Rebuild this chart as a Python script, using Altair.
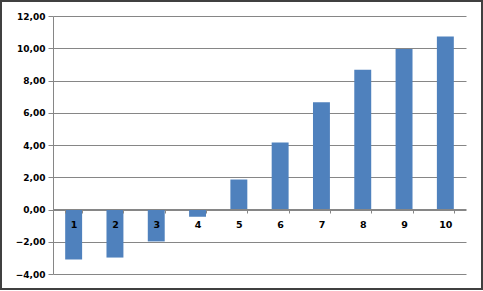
import altair as alt
import pandas as pd

categories = ["1", "2", "3", "4", "5", "6", "7", "8", "9", "10"]
values = [-3.10, -2.98, -1.98, -0.45, 1.86, 4.15, 6.65, 8.67, 9.95, 10.73]
y_ticks = [-4, -2, 0, 2, 4, 6, 8, 10, 12]

df = pd.DataFrame({"cat": categories, "val": values})

W, H = 413, 258
font = "DejaVu Sans"

base = alt.Chart(df)

bars = base.mark_bar(color="#4f81bd").encode(
    x=alt.X(
        "cat:N",
        sort=categories,
        scale=alt.Scale(paddingInner=0.59, paddingOuter=0.295),
        axis=alt.Axis(
            title=None,
            orient="bottom",
            offset=-65,
            labelAngle=0,
            tickBand="extent",
            tickSize=4,
            tickColor="#868686",
            domainColor="#868686",
            labelFont=font,
            labelFontWeight="bold",
            labelFontSize=9.5,
            labelColor="#000000",
            labelPadding=6,
            grid=False,
            zindex=1,
        ),
    ),
    y=alt.Y(
        "val:Q",
        scale=alt.Scale(domain=[-4, 12], nice=False, zero=False),
        axis=alt.Axis(
            title=None,
            values=y_ticks,
            labelExpr="replace(format(datum.value, '.2f'), '.', ',')",
            grid=True,
            gridColor="#868686",
            tickColor="#868686",
            domainColor="#868686",
            tickSize=5,
            labelFont=font,
            labelFontWeight="bold",
            labelFontSize=9,
            labelColor="#000000",
            labelPadding=3,
        ),
    ),
)

border = alt.Chart(pd.DataFrame({"a": [0]})).mark_rect(
    fill=None, stroke="#404040", strokeWidth=2
).encode(
    x=alt.value(-52),
    x2=alt.value(W + 16),
    y=alt.value(-15),
    y2=alt.value(H + 15),
)

chart = alt.layer(bars, border).properties(
    width=W,
    height=H,
    padding={"left": 53, "top": 16, "right": 17, "bottom": 17},
    autosize=alt.AutoSizeParams(type="none"),
    background="#ffffff",
).configure_view(stroke=None)

chart.save("out.html", embed_options={"renderer": "svg", "actions": False})
